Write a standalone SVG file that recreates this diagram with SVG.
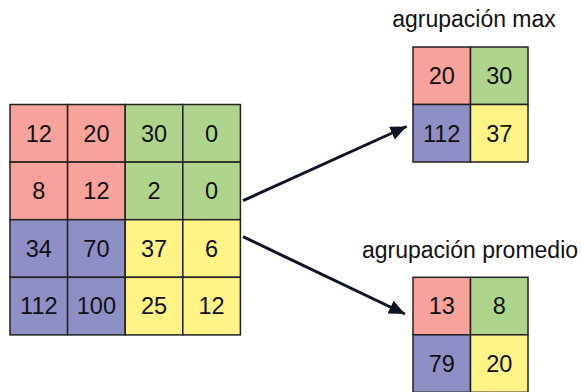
<svg xmlns="http://www.w3.org/2000/svg" width="581" height="392" viewBox="0 0 581 392">
  <style>
    .cell { stroke: #222; stroke-width: 1.5; }
    .r { fill: #f7a29a; }
    .g { fill: #afd58c; }
    .b { fill: #8e90c5; }
    .y { fill: #fff385; }
    .num { font-family: "Liberation Sans", Arial, sans-serif; font-size: 23.5px; fill: #111; text-anchor: middle; }
    .label { font-family: "Liberation Sans", Arial, sans-serif; font-size: 23px; fill: #111; text-anchor: middle; }
    .arrow { stroke: #0b1526; stroke-width: 3; fill: none; }
  </style>
  <defs>
    <marker id="head" markerUnits="userSpaceOnUse" markerWidth="18" markerHeight="14" refX="16" refY="7" orient="auto">
      <path d="M0,0 L16,7 L0,14 Z" fill="#0b1526"/>
    </marker>
  </defs>

  <rect width="581" height="392" fill="#ffffff"/>

  <!-- 4x4 input grid -->
  <g id="input-grid">
    <rect class="cell r" x="10" y="104.5" width="57.6" height="57.6"/>
    <rect class="cell r" x="67.6" y="104.5" width="57.6" height="57.6"/>
    <rect class="cell g" x="125.2" y="104.5" width="57.6" height="57.6"/>
    <rect class="cell g" x="182.8" y="104.5" width="57.6" height="57.6"/>
    <rect class="cell r" x="10" y="162.1" width="57.6" height="57.6"/>
    <rect class="cell r" x="67.6" y="162.1" width="57.6" height="57.6"/>
    <rect class="cell g" x="125.2" y="162.1" width="57.6" height="57.6"/>
    <rect class="cell g" x="182.8" y="162.1" width="57.6" height="57.6"/>
    <rect class="cell b" x="10" y="219.7" width="57.6" height="57.6"/>
    <rect class="cell b" x="67.6" y="219.7" width="57.6" height="57.6"/>
    <rect class="cell y" x="125.2" y="219.7" width="57.6" height="57.6"/>
    <rect class="cell y" x="182.8" y="219.7" width="57.6" height="57.6"/>
    <rect class="cell b" x="10" y="277.3" width="57.6" height="57.6"/>
    <rect class="cell b" x="67.6" y="277.3" width="57.6" height="57.6"/>
    <rect class="cell y" x="125.2" y="277.3" width="57.6" height="57.6"/>
    <rect class="cell y" x="182.8" y="277.3" width="57.6" height="57.6"/>
    <text class="num" x="38.8" y="141.5">12</text>
    <text class="num" x="96.4" y="141.5">20</text>
    <text class="num" x="154" y="141.5">30</text>
    <text class="num" x="211.6" y="141.5">0</text>
    <text class="num" x="38.8" y="199.1">8</text>
    <text class="num" x="96.4" y="199.1">12</text>
    <text class="num" x="154" y="199.1">2</text>
    <text class="num" x="211.6" y="199.1">0</text>
    <text class="num" x="38.8" y="256.7">34</text>
    <text class="num" x="96.4" y="256.7">70</text>
    <text class="num" x="154" y="256.7">37</text>
    <text class="num" x="211.6" y="256.7">6</text>
    <text class="num" x="38.8" y="314.3">112</text>
    <text class="num" x="96.4" y="314.3">100</text>
    <text class="num" x="154" y="314.3">25</text>
    <text class="num" x="211.6" y="314.3">12</text>
  </g>

  <!-- max pooling result -->
  <g id="max-pool">
    <text class="label" x="474" y="26.5">agrupación max</text>
    <rect class="cell r" x="413" y="47" width="57.5" height="57.5"/>
    <rect class="cell g" x="470.5" y="47" width="57.5" height="57.5"/>
    <rect class="cell b" x="413" y="104.5" width="57.5" height="57.5"/>
    <rect class="cell y" x="470.5" y="104.5" width="57.5" height="57.5"/>
    <text class="num" x="441.7" y="84">20</text>
    <text class="num" x="499.2" y="84">30</text>
    <text class="num" x="441.7" y="141.5">112</text>
    <text class="num" x="499.2" y="141.5">37</text>
  </g>

  <!-- average pooling result -->
  <g id="avg-pool">
    <text class="label" x="470" y="258.3">agrupación promedio</text>
    <rect class="cell r" x="413" y="277.3" width="57.5" height="57.5"/>
    <rect class="cell g" x="470.5" y="277.3" width="57.5" height="57.5"/>
    <rect class="cell b" x="413" y="334.8" width="57.5" height="57.5"/>
    <rect class="cell y" x="470.5" y="334.8" width="57.5" height="57.5"/>
    <text class="num" x="441.7" y="314.3">13</text>
    <text class="num" x="499.2" y="314.3">8</text>
    <text class="num" x="441.7" y="371.8">79</text>
    <text class="num" x="499.2" y="371.8">20</text>
  </g>

  <!-- connectors -->
  <g id="connectors">
    <line class="arrow" x1="243" y1="200.7" x2="406.5" y2="126.5" marker-end="url(#head)"/>
    <line class="arrow" x1="243" y1="236.7" x2="405" y2="314" marker-end="url(#head)"/>
  </g>
</svg>
